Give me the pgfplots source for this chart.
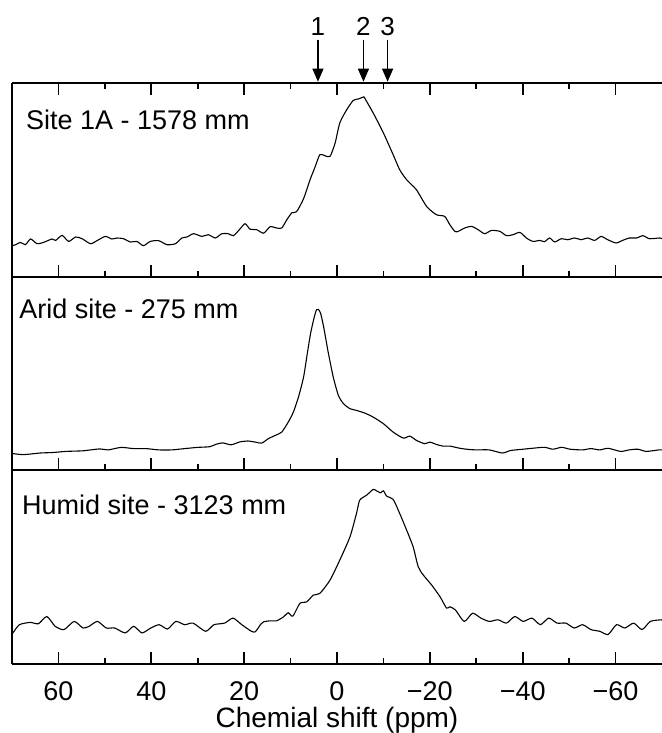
\documentclass[border=0pt]{standalone}
\usepackage{pgfplots}
\pgfplotsset{compat=1.18}
\usepackage{fontspec}
\setmainfont{Liberation Sans}
\usetikzlibrary{arrows.meta}

\pgfplotstableread{
x y
70 31
69.2 32
68.2 34.3
67.1 32
66.0 37.7
64.6 33
63.2 34.3
61.4 37.7
60.6 36.3
59.2 41.3
57.8 35.3
56.3 39.7
54.9 38
53.1 33
51.7 36
49.9 40.3
48.5 37.7
47.4 38.7
46.0 38
44.5 34.7
43.1 35.3
41.7 31
40.2 35.3
38.4 36
36.6 32
34.8 33
33.4 38.7
32.3 39.7
30.9 43
29.1 40.3
27.7 42
26.2 38.7
24.8 43
23.4 43
22.3 41
20.9 47.7
19.8 53
18.7 47.5
17.3 47
15.8 43.5
14.4 50
13.0 48.7
11.9 48.7
10.8 57
9.7 64
8.7 65
7.2 78
5.8 97
4.7 110
3.7 122
2.6 121
1.5 120.3
0.4 133.7
-0.6 153.7
-2.1 167
-3.5 176.3
-4.6 177.7
-5.7 179.7
-6.0 178.3
-7.8 163.7
-10.0 143.7
-12.1 122
-13.5 107
-15.0 97
-17.1 87
-19.3 70.3
-21.4 62
-23.2 60.3
-24.3 52
-25.4 45.3
-26.1 45.3
-27.5 48.7
-29.0 50.3
-30.4 47
-31.8 43
-33.3 46.3
-35.1 45.3
-36.5 41
-37.9 42
-39.4 44.3
-40.8 38.7
-42.2 35.3
-43.7 36.3
-44.7 35
-45.8 38.7
-46.9 34.7
-48.3 38
-49.7 37
-51.2 38.7
-52.6 37
-54.0 38.7
-55.5 36.3
-56.9 40.3
-58.3 37
-60.1 33.7
-61.5 36.3
-63.0 38.7
-64.5 38.7
-65.9 41
-67.3 38
-69.5 38.7
-70 38
}\siteA

\pgfplotstableread{
x y
70 17
69.8 16.8
67.5 15.8
63.9 17.4
61.2 17.9
58.4 19
54.7 19.6
51.1 21.5
49.3 20.5
46.5 23
43.8 21.8
41.1 21.8
38.4 20.5
35.6 20.5
32.8 21.8
30.1 23
27.4 23.7
26.0 26.2
24.6 27.5
22.8 25.6
21.0 28.4
19.2 29.4
17.6 28.3
16.2 27.3
14.8 31.7
13.3 35
11.9 38.3
10.5 48.3
9.4 58.3
8.3 73.3
7.2 93.3
6.4 116.7
5.7 136.7
4.9 153.3
4.4 160.7
4.0 161
3.5 156.7
2.8 141.7
1.9 118.3
0.8 93.3
-0.3 75
-1.4 66.7
-2.8 61.7
-4.2 60
-6.0 57.3
-7.8 53.3
-10.0 46.7
-12.1 38.3
-14.3 32.3
-15.7 34.3
-17.1 30
-18.9 26.7
-20.0 28.3
-21.4 26
-22.8 24.3
-24.3 24.3
-26.5 22.1
-28.3 21
-30.1 20.5
-32.8 20.5
-35.6 17.4
-37.4 19.9
-40.1 21.2
-42.0 22.1
-44.7 23.1
-46.5 21.2
-48.4 23.1
-50.2 21.2
-52.9 20.5
-54.7 21.8
-56.6 20.5
-58.4 22.1
-61.1 19
-62.9 20.5
-64.8 21.2
-66.6 19
-69.3 20.5
-70 20.5
}\arid

\pgfplotstableread{
x y
70 30
69.8 31.2
68.4 39.4
66.1 41.7
64.3 40.4
62.5 47.6
60.7 37.8
58.8 34.5
56.6 42.7
54.7 36.1
53.4 37.8
51.6 42.7
49.7 36.1
47.9 36.1
45.6 31.2
43.8 37.8
42.0 31.2
40.1 36.1
38.3 39.4
36.5 35.1
34.7 42.7
32.8 39.4
31.0 41
28.3 32.8
26.5 39.4
24.2 41
22.4 46
20.5 39.4
18.5 33
17.6 32.3
16.4 40
15.8 42.3
14.4 43.3
13.0 43.3
11.5 47.3
10.5 51.3
9.5 48
8.0 60.7
6.5 62.3
5.1 69
3.7 70.7
1.5 84
-0.6 104
-2.8 127.3
-4.2 150.7
-4.9 164
-6.4 169
-7.8 174.7
-8.5 173.3
-9.4 171.3
-10.0 173.3
-10.7 168
-12.1 164.7
-13.5 150.7
-15.0 134
-16.4 117.3
-17.5 97.3
-18.6 89
-20.4 79
-22.2 67.3
-23.6 56
-24.3 57.3
-25.5 54.2
-27.4 42.7
-29.2 50.9
-31.0 46
-32.8 42.7
-34.7 44.3
-36.5 41
-38.3 47.6
-40.1 42.7
-42.0 46
-43.8 39.4
-45.6 46
-47.4 41
-49.3 41
-51.1 36.1
-52.9 39.4
-54.7 34.5
-56.6 32.8
-58.4 29.6
-60.2 39.4
-62.0 36.1
-63.9 41
-65.7 34.5
-67.5 42.7
-69.8 44.3
-70 44
}\humid

\pgfplotsset{
  panel/.style={
    width=650pt, height=193.7pt, scale only axis,
    x dir=reverse, xmin=-70, xmax=70, ymin=0, ymax=193.7,
    axis y line*=left, ytick=\empty,
    xtick={-60,-40,-20,0,20,40,60},
    minor xtick={-50,-30,-10,10,30,50},
    tick align=inside, major tick length=12pt, minor tick length=6pt,
    axis line style={line width=2pt, black},
    every tick/.style={line width=1.8pt, black},
    xticklabels=\empty,
  },
  curve/.style={black, line width=1.1pt, smooth, tension=0.4, no marks},
}

\begin{document}
\begin{tikzpicture}
\path[use as bounding box] (-12pt,83pt) rectangle (649pt,-650pt);

\begin{axis}[panel, name=p1, at={(0pt,0pt)}, anchor=north west, xtick pos=both, clip=false]
\addplot[curve] table[x=x,y=y] {\siteA};
\node[anchor=base west, inner sep=0pt, font=\fontsize{27}{30}\selectfont] at (axis description cs:0.0215,0.759) {Site 1A - 1578 mm};
\draw[line width=1.3pt, -{Triangle[length=13pt,width=11pt]}] (axis cs:4.1,237) -- (axis cs:4.1,195);
\draw[line width=1.3pt, -{Triangle[length=13pt,width=11pt]}] (axis cs:-5.7,237) -- (axis cs:-5.7,195);
\draw[line width=1.3pt, -{Triangle[length=13pt,width=11pt]}] (axis cs:-10.9,237) -- (axis cs:-10.9,195);
\node[anchor=base, inner sep=0pt, font=\fontsize{26}{30}\selectfont] at (axis cs:4.1,241) {1};
\node[anchor=base, inner sep=0pt, font=\fontsize{26}{30}\selectfont] at (axis cs:-5.7,241) {2};
\node[anchor=base, inner sep=0pt, font=\fontsize{26}{30}\selectfont] at (axis cs:-10.9,241) {3};
\end{axis}

\begin{axis}[panel, name=p2, at={(0pt,-193.7pt)}, anchor=north west, xtick pos=left]
\addplot[curve] table[x=x,y=y] {\arid};
\node[anchor=base west, inner sep=0pt, font=\fontsize{27}{30}\selectfont] at (axis description cs:0.011,0.785) {Arid site - 275 mm};
\end{axis}

\begin{axis}[panel, name=p3, at={(0pt,-387.4pt)}, anchor=north west, xtick pos=left,
  xticklabels={−60,−40,−20,0,20,40,60},
  xticklabel style={font=\fontsize{27}{30}\selectfont, anchor=base, yshift=-36pt},
  xlabel={Chemial shift (ppm)},
  xlabel style={font=\fontsize{28}{30}\selectfont, at={(axis description cs:0.5,0)}, anchor=base, yshift=-63pt, inner sep=0pt}]
\addplot[curve] table[x=x,y=y] {\humid};
\node[anchor=base west, inner sep=0pt, font=\fontsize{27}{30}\selectfont] at (axis description cs:0.0154,0.774) {Humid site - 3123 mm};
\end{axis}
\end{tikzpicture}
\end{document}
